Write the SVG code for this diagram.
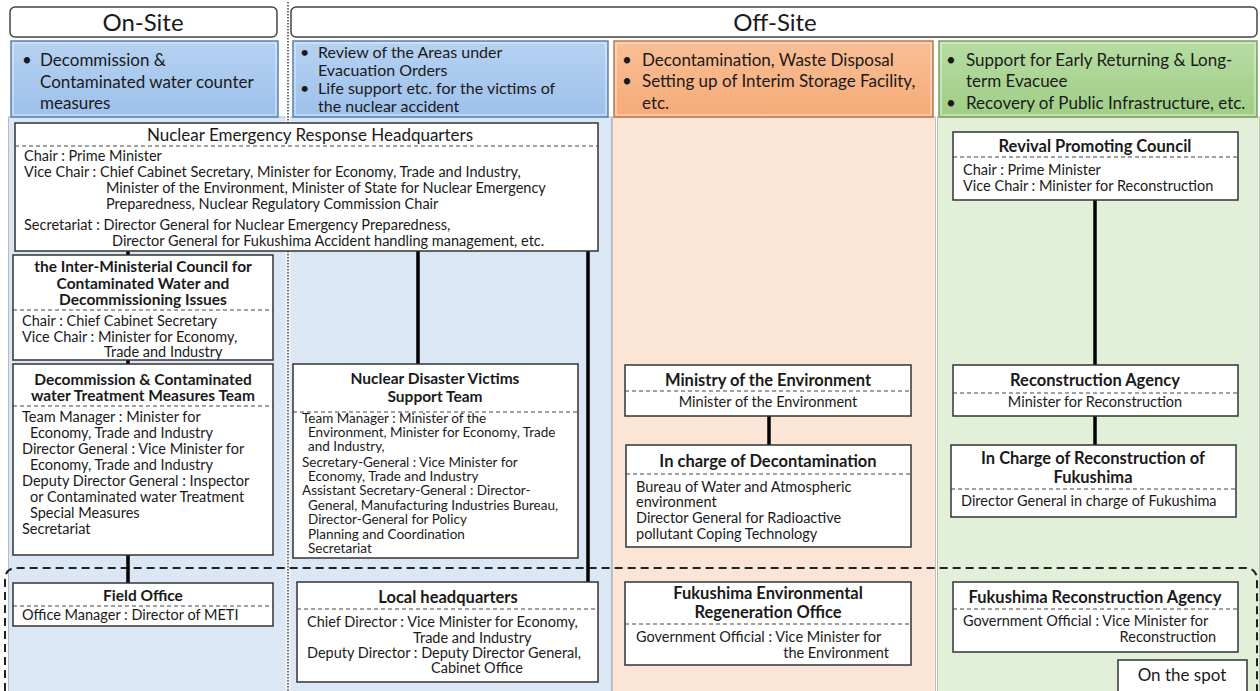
<svg xmlns="http://www.w3.org/2000/svg" width="1260" height="691" viewBox="0 0 1260 691">
<defs>
<linearGradient id="gBlue" x1="0" y1="0" x2="0" y2="1"><stop offset="0" stop-color="#b6d2f2"/><stop offset="1" stop-color="#9dc0ea"/></linearGradient>
<linearGradient id="gOrange" x1="0" y1="0" x2="0" y2="1"><stop offset="0" stop-color="#f9bf96"/><stop offset="1" stop-color="#f6aa78"/></linearGradient>
<linearGradient id="gGreen" x1="0" y1="0" x2="0" y2="1"><stop offset="0" stop-color="#b7dca3"/><stop offset="1" stop-color="#a0cd86"/></linearGradient>
<style>
text{font-family:Lato,"Liberation Sans",sans-serif;fill:#1a1a1a}
.hd{font-size:24px;text-anchor:middle}
.bt{font-size:17px}
.bs{font-size:16px}
.ti{font-size:16.5px;font-weight:bold;text-anchor:middle}
.tv{font-size:15.5px;font-weight:bold;text-anchor:middle}
.tl{font-size:15.5px;font-weight:bold;text-anchor:middle}
.tn{font-size:17px;text-anchor:middle}
.b{font-size:14.5px}
.s{font-size:13.5px}
.c{text-anchor:middle}
.e{text-anchor:end}
.box{fill:#fff;stroke:#333;stroke-width:1.5}
.dl{stroke:#444;stroke-width:1.2;stroke-dasharray:4 3;fill:none}
.conn line{stroke:#000;stroke-width:3.5}
.hb{fill:#fff;stroke:#444;stroke-width:1.5}
.inset{fill:none;stroke:#fff;stroke-opacity:0.45;stroke-width:1.5}
</style>
</defs>
<rect width="1260" height="691" fill="#fff"/>
<g id="columns">
<rect x="8.5" y="117" width="603" height="580" fill="#dbe7f4" stroke="#b3bcc6" stroke-width="1"/>
<rect x="612.5" y="117" width="323" height="580" fill="#fbe5d6" stroke="#c6beb8" stroke-width="1"/>
<rect x="937.5" y="117" width="322" height="580" fill="#e2f0d9" stroke="#b9c3b3" stroke-width="1"/>
<rect x="285.5" y="2" width="5" height="689" fill="#fff" opacity="0.7"/>
<line x1="288" y1="2" x2="288" y2="691" stroke="#444" stroke-width="1.5" stroke-dasharray="1.5 1.5"/>
</g>
<g id="headers">
<rect class="hb" x="10" y="7" width="267" height="30" rx="5"/>
<text class="hd" x="143" y="31">On-Site</text>
<rect class="hb" x="291" y="7" width="966" height="30" rx="5"/>
<text class="hd" x="775" y="31">Off-Site</text>
</g>
<g id="topic-onsite">
<rect x="11" y="41" width="267" height="76" fill="url(#gBlue)" stroke="#5b82b3" stroke-width="1.5"/>
<rect class="inset" x="13" y="43" width="263" height="72"/>
<text class="bt" x="22" y="66">•</text>
<text class="bt" x="40" y="66">Decommission &amp;</text>
<text class="bt" x="40" y="88">Contaminated water counter</text>
<text class="bt" x="40" y="109">measures</text>
</g>
<g id="topic-evac">
<rect x="293" y="41" width="315" height="76" fill="url(#gBlue)" stroke="#5b82b3" stroke-width="1.5"/>
<rect class="inset" x="295" y="43" width="311" height="72"/>
<text class="bs" x="300" y="58">•</text>
<text class="bs" x="318" y="58">Review of the Areas under</text>
<text class="bs" x="318" y="76">Evacuation Orders</text>
<text class="bs" x="300" y="94">•</text>
<text class="bs" x="318" y="94">Life support  etc. for the victims of</text>
<text class="bs" x="318" y="112">the nuclear accident</text>
</g>
<g id="topic-decon">
<rect x="614" y="41" width="319" height="76" fill="url(#gOrange)" stroke="#b97a50" stroke-width="1.5"/>
<rect class="inset" x="616" y="43" width="315" height="72"/>
<text class="bt" x="622" y="66">•</text>
<text class="bt" x="642" y="66">Decontamination, Waste Disposal</text>
<text class="bt" x="622" y="87">•</text>
<text class="bt" x="642" y="87">Setting up of Interim Storage Facility,</text>
<text class="bt" x="642" y="109">etc.</text>
</g>
<g id="topic-return">
<rect x="939" y="41" width="318" height="76" fill="url(#gGreen)" stroke="#78a35c" stroke-width="1.5"/>
<rect class="inset" x="941" y="43" width="314" height="72"/>
<text class="bt" x="946" y="66">•</text>
<text class="bt" x="966" y="66">Support for Early Returning &amp; Long-</text>
<text class="bt" x="966" y="87">term Evacuee</text>
<text class="bt" x="946" y="109">•</text>
<text class="bt" x="966" y="109">Recovery of Public Infrastructure, etc.</text>
</g>
<g id="onspot-area">
<path d="M5,691 V580 Q5,568 17,568 H1245 Q1257,568 1257,580 V691" fill="none" stroke="#222" stroke-width="2" stroke-dasharray="8 5"/>
</g>
<g class="conn" id="connectors">
<line x1="128" y1="251" x2="128" y2="255"/>
<line x1="128" y1="360" x2="128" y2="364"/>
<line x1="128" y1="555" x2="128" y2="583"/>
<line x1="418" y1="251" x2="418" y2="364"/>
<line x1="588" y1="251" x2="588" y2="582"/>
<line x1="769" y1="416" x2="769" y2="445"/>
<line x1="1095" y1="200" x2="1095" y2="365"/>
<line x1="1095" y1="416" x2="1095" y2="445"/>
</g>
<g id="nerh">
<rect class="box" x="15" y="123" width="583" height="128"/>
<text class="tn" x="310" y="141">Nuclear Emergency Response Headquarters</text>
<line class="dl" x1="15" y1="146" x2="598" y2="146"/>
<text class="b" x="24" y="161">Chair : Prime Minister</text>
<text class="b" x="24" y="177">Vice Chair : Chief Cabinet Secretary, Minister for Economy, Trade and Industry,</text>
<text class="b" x="106" y="193">Minister of the Environment, Minister of State for Nuclear Emergency</text>
<text class="b" x="106" y="209">Preparedness, Nuclear Regulatory Commission Chair</text>
<text class="b" x="24" y="230">Secretariat : Director General for Nuclear Emergency Preparedness,</text>
<text class="b" x="112" y="246">Director General for Fukushima Accident handling management, etc.</text>
</g>
<g id="inter-ministerial">
<rect class="box" x="13" y="255" width="260" height="105"/>
<text class="tl" x="143" y="272">the Inter-Ministerial Council for</text>
<text class="tl" x="143" y="289">Contaminated Water and</text>
<text class="tl" x="143" y="305">Decommissioning Issues</text>
<line class="dl" x1="13" y1="310" x2="273" y2="310"/>
<text class="b" x="22" y="326">Chair : Chief Cabinet Secretary</text>
<text class="b" x="22" y="342">Vice Chair : Minister for Economy,</text>
<text class="b" x="104" y="357">Trade and Industry</text>
</g>
<g id="decommission-team">
<rect class="box" x="13" y="364" width="260" height="191"/>
<text class="tl" x="143" y="385">Decommission &amp; Contaminated</text>
<text class="tl" x="143" y="401">water Treatment Measures Team</text>
<line class="dl" x1="13" y1="406" x2="273" y2="406"/>
<text class="b" x="22" y="422">Team Manager : Minister for</text>
<text class="b" x="30" y="438">Economy, Trade and Industry</text>
<text class="b" x="22" y="454">Director General : Vice Minister for</text>
<text class="b" x="30" y="470">Economy, Trade and Industry</text>
<text class="b" x="22" y="486">Deputy Director General : Inspector</text>
<text class="b" x="30" y="502">or Contaminated water Treatment</text>
<text class="b" x="30" y="518">Special Measures</text>
<text class="b" x="22" y="534">Secretariat</text>
</g>
<g id="victims-team">
<rect class="box" x="293" y="364" width="285" height="194"/>
<text class="tv" x="435" y="384">Nuclear Disaster Victims</text>
<text class="tv" x="435" y="402">Support Team</text>
<line class="dl" x1="293" y1="412" x2="578" y2="412"/>
<text class="s" x="302" y="423">Team Manager : Minister of the</text>
<text class="s" x="308" y="437">Environment, Minister for Economy, Trade</text>
<text class="s" x="308" y="451">and Industry,</text>
<text class="s" x="302" y="467">Secretary-General : Vice Minister for</text>
<text class="s" x="308" y="481">Economy, Trade and Industry</text>
<text class="s" x="302" y="495">Assistant Secretary-General : Director-</text>
<text class="s" x="308" y="510">General, Manufacturing Industries Bureau,</text>
<text class="s" x="308" y="524">Director-General for Policy</text>
<text class="s" x="308" y="539">Planning and Coordination</text>
<text class="s" x="308" y="553">Secretariat</text>
</g>
<g id="field-office">
<rect class="box" x="13" y="583" width="260" height="43"/>
<text class="tl" x="143" y="601">Field Office</text>
<line class="dl" x1="13" y1="606" x2="273" y2="606"/>
<text class="b" x="22" y="620">Office Manager : Director of METI</text>
</g>
<g id="local-hq">
<rect class="box" x="297" y="582" width="301" height="100"/>
<text class="ti" x="448" y="603">Local headquarters</text>
<line class="dl" x1="297" y1="609" x2="598" y2="609"/>
<text class="b" x="307" y="627">Chief Director : Vice Minister for Economy,</text>
<text class="b" x="413" y="643">Trade and Industry</text>
<text class="b" x="307" y="658">Deputy Director : Deputy Director General,</text>
<text class="b" x="431" y="673">Cabinet Office</text>
</g>
<g id="ministry-env">
<rect class="box" x="625" y="365" width="286" height="51"/>
<text class="ti" x="768" y="386">Ministry of the Environment</text>
<line class="dl" x1="625" y1="391" x2="911" y2="391"/>
<text class="b c" x="768" y="407">Minister of the Environment</text>
</g>
<g id="decon-charge">
<rect class="box" x="626" y="445" width="285" height="102"/>
<text class="ti" x="768" y="467">In charge of Decontamination</text>
<line class="dl" x1="626" y1="474" x2="911" y2="474"/>
<text class="b" x="636" y="492">Bureau of Water and Atmospheric</text>
<text class="b" x="636" y="507">environment</text>
<text class="b" x="636" y="523">Director General for Radioactive</text>
<text class="b" x="636" y="539">pollutant Coping Technology</text>
</g>
<g id="fero">
<rect class="box" x="625" y="582" width="286" height="83"/>
<text class="ti" x="768" y="599">Fukushima Environmental</text>
<text class="ti" x="768" y="618">Regeneration Office</text>
<line class="dl" x1="625" y1="624" x2="911" y2="624"/>
<text class="b" x="636" y="642">Government Official : Vice Minister for</text>
<text class="b e" x="889" y="658">the Environment</text>
</g>
<g id="revival-council">
<rect class="box" x="953" y="132" width="285" height="68"/>
<text class="ti" x="1095" y="152">Revival Promoting Council</text>
<line class="dl" x1="953" y1="157" x2="1238" y2="157"/>
<text class="b" x="963" y="175">Chair : Prime Minister</text>
<text class="b" x="963" y="191">Vice Chair : Minister for Reconstruction</text>
</g>
<g id="reconstruction-agency">
<rect class="box" x="953" y="365" width="285" height="51"/>
<text class="ti" x="1095" y="386">Reconstruction Agency</text>
<line class="dl" x1="953" y1="393" x2="1238" y2="393"/>
<text class="b c" x="1095" y="407">Minister for Reconstruction</text>
</g>
<g id="reconstruction-fukushima">
<rect class="box" x="951" y="445" width="285" height="72"/>
<text class="ti" x="1093" y="464">In Charge of Reconstruction of</text>
<text class="ti" x="1093" y="483">Fukushima</text>
<line class="dl" x1="951" y1="489" x2="1236" y2="489"/>
<text class="b" x="961" y="506">Director General in charge of Fukushima</text>
</g>
<g id="fukushima-reconstruction-agency">
<rect class="box" x="953" y="582" width="285" height="70"/>
<text class="ti" x="1095" y="603">Fukushima Reconstruction Agency</text>
<line class="dl" x1="953" y1="609" x2="1238" y2="609"/>
<text class="b" x="963" y="626">Government Official : Vice Minister for</text>
<text class="b e" x="1216" y="642">Reconstruction</text>
</g>
<g id="on-the-spot">
<rect class="box" x="1118" y="660" width="129" height="36"/>
<text class="tn" x="1182" y="681">On the spot</text>
</g>
</svg>
